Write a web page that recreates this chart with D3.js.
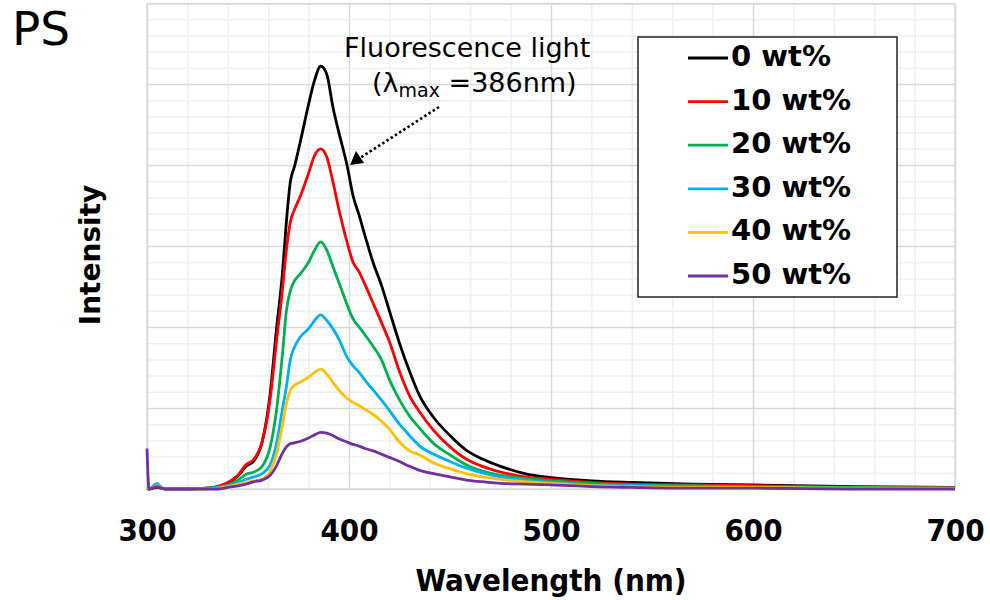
<!DOCTYPE html>
<html>
<head>
<meta charset="utf-8">
<script src="https://cdn.jsdelivr.net/npm/d3@7"></script>
<style>
  body { margin: 0; background: #fff; }
  svg { display: block; }
</style>
</head>
<body>
<div id="chart"></div>
<script>
// wavelength grid (nm)
const wavelengths = [300, 301, 305, 307, 310, 320, 330, 335, 340, 345,
  349, 353, 357, 361, 364, 367, 369, 371, 373, 376,
  380, 383, 386, 389, 392, 395, 399, 402, 405, 408,
  412, 416, 420, 425, 430, 435, 442, 450, 458, 466,
  475, 487, 500, 520, 540, 570, 600, 650, 700];

// intensity of each sample
const wt0 = [0.01, 0, 0.02, 0.01, 0, 0, 0.01, 0.03, 0.07, 0.16,
  0.28, 0.35, 0.58, 1.18, 1.95, 2.65, 3.3, 3.8, 3.98, 4.3,
  4.75, 5.05, 5.22, 5.12, 4.72, 4.4, 4.0, 3.62, 3.38, 3.12,
  2.79, 2.52, 2.2, 1.8, 1.45, 1.15, 0.88, 0.66, 0.48, 0.37,
  0.28, 0.19, 0.14, 0.1, 0.08, 0.06, 0.05, 0.03, 0.02];
const wt10 = [0, 0, 0.03, 0.01, 0, 0, 0.01, 0.03, 0.08, 0.17,
  0.3, 0.37, 0.58, 1.12, 1.8, 2.45, 2.95, 3.3, 3.45, 3.62,
  3.9, 4.12, 4.2, 4.1, 3.8, 3.45, 3.05, 2.8, 2.68, 2.52,
  2.29, 2.06, 1.82, 1.45, 1.15, 0.95, 0.72, 0.52, 0.37, 0.28,
  0.21, 0.15, 0.12, 0.08, 0.06, 0.05, 0.04, 0.02, 0.01];
const wt20 = [0, 0, 0.04, 0.01, 0, 0, 0.01, 0.02, 0.05, 0.11,
  0.18, 0.21, 0.28, 0.52, 0.95, 1.65, 2.2, 2.45, 2.57, 2.66,
  2.8, 2.95, 3.05, 2.95, 2.75, 2.55, 2.28, 2.1, 2.0, 1.9,
  1.76, 1.6, 1.35, 1.1, 0.9, 0.75, 0.56, 0.42, 0.3, 0.22,
  0.17, 0.13, 0.1, 0.07, 0.05, 0.04, 0.03, 0.02, 0.01];
const wt30 = [0, 0, 0.07, 0.02, 0, 0, 0.01, 0.02, 0.04, 0.08,
  0.12, 0.15, 0.19, 0.3, 0.55, 0.98, 1.26, 1.6, 1.75, 1.88,
  1.98, 2.08, 2.15, 2.08, 1.98, 1.85, 1.63, 1.52, 1.44, 1.34,
  1.22, 1.1, 0.97, 0.8, 0.66, 0.53, 0.43, 0.34, 0.26, 0.2,
  0.15, 0.11, 0.08, 0.05, 0.04, 0.03, 0.02, 0.01, 0.01];
const wt40 = [0, 0, 0.04, 0.01, 0, 0, 0, 0.01, 0.03, 0.06,
  0.08, 0.1, 0.12, 0.22, 0.42, 0.78, 1.05, 1.22, 1.28, 1.32,
  1.38, 1.44, 1.48, 1.42, 1.32, 1.22, 1.12, 1.07, 1.03, 0.98,
  0.92, 0.84, 0.74, 0.58, 0.47, 0.42, 0.32, 0.25, 0.19, 0.15,
  0.12, 0.09, 0.07, 0.04, 0.03, 0.02, 0.02, 0.01, 0.01];
const wt50 = [0.5, 0, 0.03, 0.01, 0, 0, 0, 0, 0.02, 0.04,
  0.06, 0.09, 0.11, 0.17, 0.28, 0.44, 0.52, 0.56, 0.57, 0.59,
  0.63, 0.67, 0.7, 0.69, 0.66, 0.62, 0.58, 0.55, 0.53, 0.5,
  0.47, 0.43, 0.39, 0.34, 0.28, 0.23, 0.19, 0.15, 0.11, 0.09,
  0.07, 0.06, 0.05, 0.03, 0.02, 0.01, 0.01, 0, 0];

const seriesNames = ["0 wt%", "10 wt%", "20 wt%", "30 wt%", "40 wt%", "50 wt%"];
const seriesValues = [wt0, wt10, wt20, wt30, wt40, wt50];
const seriesColors = ["#000000", "#ff0000", "#00b050", "#00b0f0", "#ffc000", "#7030a0"];
const xTicks = [300, 400, 500, 600, 700];

// ---- svg ----
const W = 990, H = 600;
const svg = d3.select("#chart").append("svg")
  .attr("width", W).attr("height", H);

const pLeft = 147, pRight = 955, pTop = 3, pBottom = 489;

const x = d3.scaleLinear().domain([300, 700]).range([pLeft, pRight]);
const y = d3.scaleLinear().domain([0, 6]).range([pBottom, pTop]);

// ---- gridlines ----
const minorX = d3.range(300, 701, 20).filter(v => v % 100 !== 0);
const minorY = d3.range(0, 6.01, 0.2).filter(v => Math.abs(v - Math.round(v)) > 0.01);

function grid(axis, tr, color, w) {
  const g = svg.append("g").attr("transform", tr).call(axis);
  g.select(".domain").remove();
  g.selectAll("text").remove();
  g.selectAll("line").attr("stroke", color).attr("stroke-width", w);
}
grid(d3.axisBottom(x).tickValues(minorX).tickSize(-(pBottom - pTop)).tickFormat(""),
  `translate(0,${pBottom})`, "#efefef", 1.5);
grid(d3.axisLeft(y).tickValues(minorY).tickSize(-(pRight - pLeft)).tickFormat(""),
  `translate(${pLeft},0)`, "#efefef", 1.5);
grid(d3.axisBottom(x).tickValues(xTicks).tickSize(-(pBottom - pTop)).tickFormat(""),
  `translate(0,${pBottom})`, "#d9d9d9", 1.5);
grid(d3.axisLeft(y).tickValues(d3.range(0, 7)).tickSize(-(pRight - pLeft)).tickFormat(""),
  `translate(${pLeft},0)`, "#d9d9d9", 1.5);

svg.append("rect")
  .attr("x", pLeft).attr("y", pTop + 1)
  .attr("width", pRight - pLeft).attr("height", pBottom - pTop - 1)
  .attr("fill", "none").attr("stroke", "#d9d9d9").attr("stroke-width", 1.5);

// ---- x axis labels ----
const xAxis = svg.append("g")
  .attr("transform", `translate(0,${pBottom})`)
  .call(d3.axisBottom(x).tickValues(xTicks).tickSize(0).tickPadding(30));
xAxis.select(".domain").remove();
xAxis.selectAll("text")
  .attr("font-family", "'DejaVu Sans Condensed', 'DejaVu Sans', sans-serif")
  .attr("font-stretch", "condensed")
  .attr("font-weight", "bold")
  .attr("font-size", 31)
  .attr("fill", "#000");

// ---- lines ----
const line = d3.line()
  .x((d, i) => x(wavelengths[i]))
  .y(d => y(d))
  .curve(d3.curveMonotoneX);

svg.append("g").selectAll("path")
  .data(seriesValues)
  .enter()
  .append("path")
  .attr("d", line)
  .attr("fill", "none")
  .attr("stroke", (d, i) => seriesColors[i])
  .attr("stroke-width", 2.8)
  .attr("stroke-linejoin", "round");

// ---- titles ----
svg.append("text")
  .attr("x", 12).attr("y", 45)
  .attr("font-family", "'DejaVu Sans', sans-serif")
  .attr("font-size", 47)
  .text("PS");

svg.append("text")
  .attr("x", 551).attr("y", 591)
  .attr("text-anchor", "middle")
  .attr("font-family", "'DejaVu Sans Condensed', 'DejaVu Sans', sans-serif")
  .attr("font-stretch", "condensed")
  .attr("font-weight", "bold")
  .attr("font-size", 31)
  .text("Wavelength (nm)");

svg.append("text")
  .attr("transform", "translate(100,255) rotate(-90)")
  .attr("text-anchor", "middle")
  .attr("font-family", "'DejaVu Sans', sans-serif")
  .attr("font-weight", "bold")
  .attr("font-size", 28)
  .text("Intensity");

// ---- annotation ----
const ann = svg.append("g")
  .attr("font-family", "'DejaVu Sans', sans-serif")
  .attr("fill", "#000");
ann.append("text")
  .attr("x", 344).attr("y", 57)
  .attr("font-size", 27)
  .text("Fluorescence light");
const t2 = ann.append("text")
  .attr("x", 372).attr("y", 92)
  .attr("font-size", 27);
t2.append("tspan").text("(λ");
t2.append("tspan").attr("font-size", 19).attr("dy", 5).text("max");
t2.append("tspan").attr("dy", -5).text(" =386nm)");

svg.append("line")
  .attr("x1", 439).attr("y1", 107)
  .attr("x2", 360).attr("y2", 158)
  .attr("stroke", "#000").attr("stroke-width", 2.6)
  .attr("stroke-dasharray", "2.5,2.5");
svg.append("path")
  .attr("d", "M350,165 L356,151 L364,163 Z")
  .attr("fill", "#000");

// ---- legend ----
const lg = svg.append("g");
lg.append("rect")
  .attr("x", 638).attr("y", 37)
  .attr("width", 259).attr("height", 260)
  .attr("fill", "#fff").attr("stroke", "#222").attr("stroke-width", 1.5);

const rows = lg.selectAll("g.row")
  .data(seriesNames)
  .enter()
  .append("g")
  .attr("class", "row")
  .attr("transform", (d, i) => `translate(0,${66 + i * 43.6})`);
rows.append("line")
  .attr("x1", 688).attr("x2", 728)
  .attr("y1", -8).attr("y2", -8)
  .attr("stroke", (d, i) => seriesColors[i])
  .attr("stroke-width", 2.8);
rows.append("text")
  .attr("x", 731).attr("y", 0)
  .attr("font-family", "'DejaVu Sans', sans-serif")
  .attr("font-weight", "bold")
  .attr("font-size", 29)
  .text(d => d);
</script>
</body>
</html>
